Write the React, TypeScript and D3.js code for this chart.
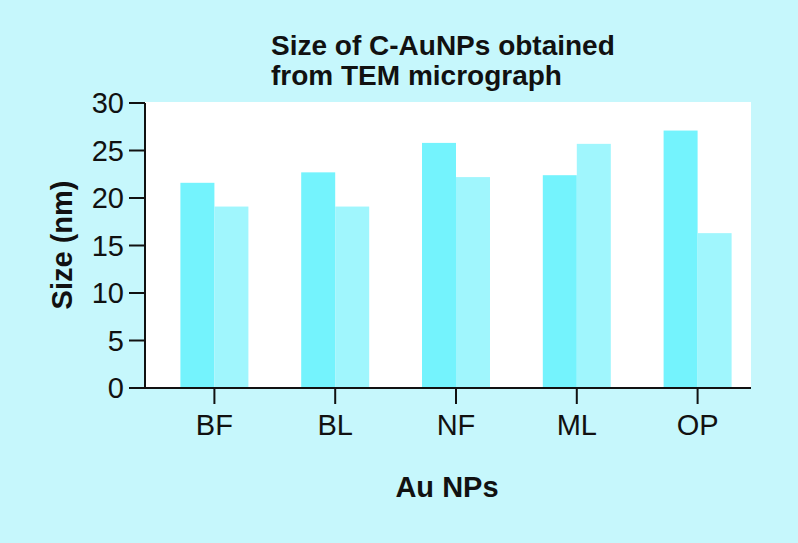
import { useMemo } from "react";
import * as d3 from "d3";

const WIDTH = 798;
const HEIGHT = 543;
// plot frame in page pixels
const FRAME = { left: 145, right: 751, top: 102, bottom: 388 };
const BAND_RANGE = [154, 758];
const BAR_W = 34;

const CATEGORIES = ["BF", "BL", "NF", "ML", "OP"];
const SERIES_A = [21.6, 22.7, 25.8, 22.4, 27.1];
const SERIES_B = [19.1, 19.1, 22.2, 25.7, 16.3];
const Y_TICKS = [0, 5, 10, 15, 20, 25, 30];
const TITLE_LINES = ["Size of C-AuNPs obtained", "from TEM micrograph"];

const BG = "#c6f7fc";
const COLOR_A = "#74f3fd";
const COLOR_B = "#a0f6fd";
const FONT = "'Liberation Sans', Arial, Helvetica, sans-serif";

export default function App() {
  const x = useMemo(
    () => d3.scaleBand<string>().domain(CATEGORIES).range(BAND_RANGE as [number, number]),
    []
  );
  const y = useMemo(
    () => d3.scaleLinear().domain([0, 30]).range([FRAME.bottom, FRAME.top + 1]),
    []
  );
  const center = (c: string) => (x(c) ?? 0) + x.bandwidth() / 2;

  return (
    <svg
      width={WIDTH}
      height={HEIGHT}
      style={{ position: "absolute", left: 0, top: 0, fontFamily: FONT }}
    >
      <rect x={0} y={0} width={WIDTH} height={HEIGHT} fill={BG} />
      <rect
        x={FRAME.left}
        y={FRAME.top}
        width={FRAME.right - FRAME.left}
        height={FRAME.bottom - FRAME.top}
        fill="#ffffff"
      />

      {/* title */}
      {TITLE_LINES.map((t, i) => (
        <text key={t} x={271} y={55 + i * 30} fontSize={28} fontWeight="bold" fill="#111">
          {t}
        </text>
      ))}

      {/* bars */}
      {CATEGORIES.map((c, i) => (
        <g key={c}>
          <rect
            x={center(c) - BAR_W}
            y={y(SERIES_A[i])}
            width={BAR_W}
            height={y(0) - y(SERIES_A[i])}
            fill={COLOR_A}
          />
          <rect
            x={center(c)}
            y={y(SERIES_B[i])}
            width={BAR_W}
            height={y(0) - y(SERIES_B[i])}
            fill={COLOR_B}
          />
        </g>
      ))}

      {/* y axis */}
      <line x1={FRAME.left} x2={FRAME.left} y1={y(30)} y2={FRAME.bottom} stroke="#111" strokeWidth={2} />
      {Y_TICKS.map((t) => (
        <g key={t} transform={`translate(0,${y(t)})`}>
          <line x1={FRAME.left - 16} x2={FRAME.left} stroke="#111" strokeWidth={2} />
          <text x={FRAME.left - 21} dy="0.36em" textAnchor="end" fontSize={29} fill="#111">
            {t}
          </text>
        </g>
      ))}
      <text
        transform={`translate(72,${(FRAME.top + FRAME.bottom) / 2}) rotate(-90)`}
        textAnchor="middle"
        fontSize={29}
        fontWeight="bold"
        fill="#111"
      >
        Size (nm)
      </text>

      {/* x axis */}
      <line x1={FRAME.left - 1} x2={FRAME.right} y1={FRAME.bottom} y2={FRAME.bottom} stroke="#111" strokeWidth={2} />
      {CATEGORIES.map((c) => (
        <g key={c} transform={`translate(${center(c)},0)`}>
          <line y1={FRAME.bottom} y2={FRAME.bottom + 16} stroke="#111" strokeWidth={2} />
          <text y={435} textAnchor="middle" fontSize={29} fill="#111">
            {c}
          </text>
        </g>
      ))}
      <text x={447} y={497} textAnchor="middle" fontSize={29} fontWeight="bold" fill="#111">
        Au NPs
      </text>
    </svg>
  );
}
